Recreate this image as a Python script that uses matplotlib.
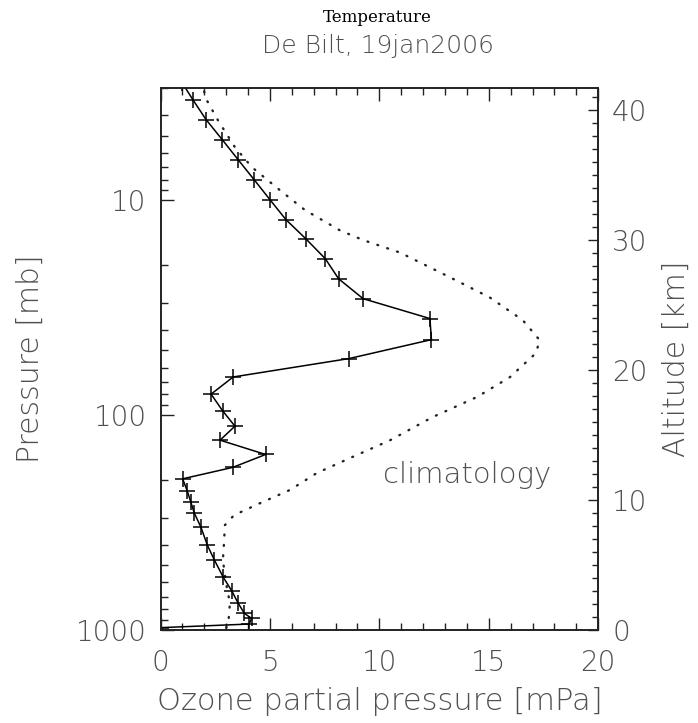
"""Ozone sounding profile, De Bilt 19 Jan 2006, with climatology."""

import matplotlib

matplotlib.use("Agg")

import matplotlib.pyplot as plt
from matplotlib.ticker import FixedLocator, MultipleLocator, NullFormatter

# sonde profile: pressure (mb) and ozone partial pressure (mPa)
SONDE_P = [2.85, 3.43, 4.21, 5.22, 6.46, 8.00, 9.93, 12.3, 15.1, 18.7, 23.2,
           28.7, 35.5, 44.5, 54.5, 66.4, 79.8, 95.5, 112.5, 130.7, 152.4, 175,
           197.8, 225, 253, 285, 333, 403, 472, 569, 656, 751, 836, 883, 938, 975]
SONDE_O3 = [1.0, 1.50, 2.08, 2.82, 3.54, 4.27, 5.00, 5.73, 6.64, 7.53, 8.14,
            9.26, 12.31, 12.38, 8.62, 3.32, 2.31, 2.84, 3.40, 2.72, 4.80, 3.30,
            1.01, 1.22, 1.38, 1.54, 1.85, 2.14, 2.46, 2.87, 3.25, 3.55, 3.83,
            4.16, 4.05, 0.0]

# climatology
CLIM_P = [2.8, 3.43, 4.25, 5.66, 7.02, 8.98, 11.1, 13.8, 15.3, 17.5, 22.8,
          28.3, 36.1, 44.8, 51.5, 66.6, 82.4, 102, 131, 157, 186, 223, 257,
          292, 325, 394, 472, 604, 748, 927, 1000]
CLIM_O3 = [1.85, 2.12, 2.63, 3.40, 4.18, 5.46, 6.60, 8.20, 9.25, 10.94, 13.22,
           15.04, 16.55, 17.33, 17.15, 15.96, 14.45, 12.44, 10.48, 8.74, 7.14,
           5.91, 4.54, 3.36, 2.94, 2.90, 2.85, 2.99, 3.17, 3.10, 2.95]

P_BOTTOM, P_TOP = 1000.0, 3.0
ALT_TOP = 41.7  # km at the top of the pressure axis

TXT = "#505050"

plt.rcParams.update({
    "font.family": ["DejaVu Sans"],
    "font.weight": "light",
    "axes.labelweight": "light",
    "axes.edgecolor": "#222222",
    "axes.linewidth": 1.2,
})

fig = plt.figure(figsize=(6.98, 7.23), dpi=100)
ax = fig.add_axes([0.230, 0.1286, 0.627, 0.7497])

ax.plot(CLIM_O3, CLIM_P, color="#222222", lw=1.7, linestyle=(0, (0.4, 4.0)),
        dash_capstyle="round")
ax.plot(SONDE_O3, SONDE_P, color="black", lw=1.1, marker="+", ms=11,
        mew=1.1)

ax.set_yscale("log")
ax.set_ylim(P_BOTTOM, P_TOP)
ax.set_xlim(0, 20)

ax.yaxis.set_major_locator(FixedLocator([10, 100, 1000]))
ax.yaxis.set_major_formatter(plt.FuncFormatter(lambda v, _: f"{v:g}"))
ax.yaxis.set_minor_locator(FixedLocator(
    [m * d for d in (1, 10, 100) for m in range(2, 10) if P_TOP <= m * d <= P_BOTTOM]))
ax.yaxis.set_minor_formatter(NullFormatter())
ax.xaxis.set_major_locator(MultipleLocator(5))
ax.xaxis.set_minor_locator(MultipleLocator(1))

ax.tick_params(which="both", direction="in", top=True, right=False,
               colors="#222222", labelcolor=TXT, labelsize=20)
ax.tick_params(which="major", length=9, width=1.0)
ax.tick_params(which="minor", length=5, width=1.0)
ax.tick_params(axis="y", pad=10)
ax.tick_params(axis="x", pad=14)

ax.set_xlabel("Ozone partial pressure [mPa]", fontsize=22, color=TXT,
              labelpad=7)
ax.set_ylabel("Pressure [mb]", fontsize=21.5, color=TXT, labelpad=22)

ax2 = ax.twinx()
ax2.set_ylim(0, ALT_TOP)
ax2.yaxis.set_major_locator(MultipleLocator(10))
ax2.yaxis.set_minor_locator(MultipleLocator(1))
ax2.tick_params(which="both", direction="in", colors="#222222",
                labelcolor=TXT, labelsize=20, pad=10)
ax2.tick_params(which="major", length=7, width=1.0)
ax2.tick_params(which="minor", length=4, width=1.0)
ax2.set_ylabel("Altitude [km]", fontsize=21.5, color=TXT, labelpad=10)

ax.text(0.509, 0.286, "climatology", transform=ax.transAxes, fontsize=21,
        color=TXT, va="center")

fig.text(0.541, 0.976, "Temperature", ha="center", va="center",
         family="DejaVu Serif", fontsize=12, color="black")
fig.text(0.541, 0.937, "De Bilt, 19jan2006", ha="center", va="center",
         fontsize=18, color=TXT)

fig.savefig("out.png", dpi=100)
